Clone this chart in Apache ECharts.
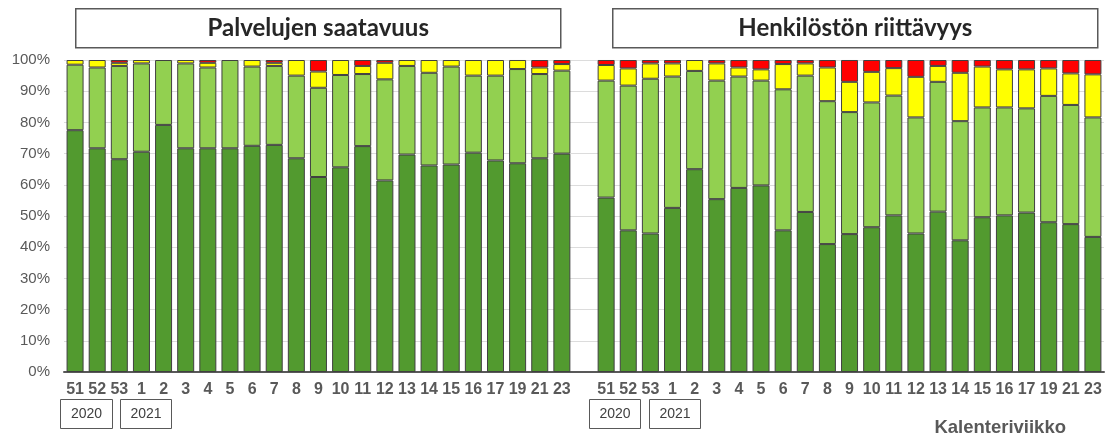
<!DOCTYPE html>
<html>
<head>
<meta charset="utf-8">
<script src="https://cdn.jsdelivr.net/npm/echarts@6/dist/echarts.min.js"></script>
<style>
html,body{margin:0;padding:0;background:#fff;}
#chart{width:1114px;height:437px;}
</style>
</head>
<body>
<div id="chart"></div>
<script>
var weeks = ['51','52','53','1','2','3','4','5','6','7','8','9','10','11','12','13','14','15','16','17','19','21','23'];
var panelTitles = ['Palvelujen saatavuus', 'Henkilöstön riittävyys'];
var yearLabels = ['2020', '2021'];
var xAxisName = 'Kalenteriviikko';

// Palvelujen saatavuus (%)
var palveluDark   = [77.5,71.7,68.2,70.6,79.2,71.7,71.7,71.7,72.5,72.8,68.5,62.5,65.6,72.4,61.4,69.7,66.2,66.5,70.3,67.8,66.9,68.5,70.0];
var palveluLight  = [21.0,25.9,29.9,28.3,20.8,27.2,25.9,28.3,25.4,25.3,26.5,28.6,29.6,23.1,32.4,28.4,29.7,31.4,24.7,27.2,30.2,27.0,26.6];
var palveluYellow = [1.5,2.4,1.0,1.1,0,1.1,1.5,0,2.1,1.0,5.0,5.2,4.8,2.6,5.3,1.9,4.1,2.1,5.0,5.0,2.9,2.1,2.1];
var palveluRed    = [0,0,0.9,0,0,0,0.9,0,0,0.9,0,3.7,0,1.9,0.9,0,0,0,0,0,0,2.4,1.3];

// Henkilöstön riittävyys (%)
var henkDark   = [55.9,45.4,44.4,52.6,65.0,55.4,59.0,59.8,45.4,51.3,41.0,44.2,46.4,50.2,44.4,51.4,42.2,49.6,50.2,51.1,48.0,47.4,43.3];
var henkLight  = [37.5,46.4,49.6,42.1,31.5,38.0,35.7,33.6,45.2,43.7,45.8,39.1,40.0,38.4,37.2,41.6,38.2,35.2,34.6,33.4,40.5,38.2,38.3];
var henkYellow = [5.0,5.5,4.9,4.2,3.5,5.5,2.9,3.6,8.1,3.9,10.8,9.7,9.8,8.8,13.0,5.1,15.5,13.1,12.2,12.5,8.8,10.1,13.8];
var henkRed    = [1.6,2.7,1.1,1.1,0,1.1,2.4,3.0,1.3,1.1,2.4,7.0,3.8,2.6,5.4,1.9,4.1,2.1,3.0,3.0,2.7,4.3,4.6];

var colors = ['#529a2f', '#92d050', '#ffff00', '#ff0000'];

var cats = weeks.concat(['']).concat(weeks);
function join(a, b) {
  return a.map(function(v){return v === 0 ? '-' : v;}).concat(['-']).concat(b.map(function(v){return v === 0 ? '-' : v;}));
}
var stacks = [
  join(palveluDark, henkDark),
  join(palveluLight, henkLight),
  join(palveluYellow, henkYellow),
  join(palveluRed, henkRed)
];

var chart = echarts.init(document.getElementById('chart'), null, {renderer: 'canvas'});

var series = stacks.map(function(d, i){
  return {
    type: 'bar',
    stack: 'total',
    data: d,
    barWidth: 17,
    itemStyle: {color: colors[i], borderColor: '#404040', borderWidth: 1},
    silent: true,
    animation: false
  };
});

function box(x, y, w, h, text, font, color, lw) {
  return {
    type: 'group',
    left: x, top: y,
    children: [
      {type: 'rect', shape: {x: 0, y: 0, width: w, height: h},
       style: {fill: '#fff', stroke: '#595959', lineWidth: lw}},
      {type: 'text', x: w / 2, y: h / 2,
       style: {text: text, font: font, fill: color, align: 'center', verticalAlign: 'middle'}}
    ]
  };
}

var option = {
  animation: false,
  grid: {left: 64, right: 10, top: 60, bottom: 65},
  xAxis: {
    type: 'category',
    data: cats,
    axisLine: {lineStyle: {color: '#595959', width: 2}},
    axisTick: {show: false},
    axisLabel: {color: '#595959', fontSize: 16, fontWeight: 'bold', fontFamily: 'Liberation Sans, Arial, sans-serif', margin: 10, interval: 0}
  },
  yAxis: {
    type: 'value',
    min: 0, max: 100, interval: 10,
    axisLine: {show: false},
    axisTick: {show: false},
    axisLabel: {formatter: '{value}%', color: '#595959', fontSize: 15, fontFamily: 'Liberation Sans, Arial, sans-serif', margin: 14},
    splitLine: {lineStyle: {color: '#dcdcdc', width: 1}}
  },
  series: series,
  graphic: [
    box(75, 8, 485, 39, panelTitles[0], 'bold 24px Lato, "Noto Sans", sans-serif', '#262626', 1.5),
    box(612, 8, 485, 39, panelTitles[1], 'bold 24px Lato, "Noto Sans", sans-serif', '#262626', 1.5),
    box(60, 399, 52, 29, yearLabels[0], '14px "Liberation Sans", Arial, sans-serif', '#404040', 1),
    box(120, 399, 51, 29, yearLabels[1], '14px "Liberation Sans", Arial, sans-serif', '#404040', 1),
    box(589, 399, 51, 29, yearLabels[0], '14px "Liberation Sans", Arial, sans-serif', '#404040', 1),
    box(649, 399, 51, 29, yearLabels[1], '14px "Liberation Sans", Arial, sans-serif', '#404040', 1),
    {type: 'text', right: 48, top: 418,
     style: {text: xAxisName, font: 'bold 18.5px "Liberation Sans", Arial, sans-serif', fill: '#595959'}}
  ]
};
chart.setOption(option);
</script>
</body>
</html>
